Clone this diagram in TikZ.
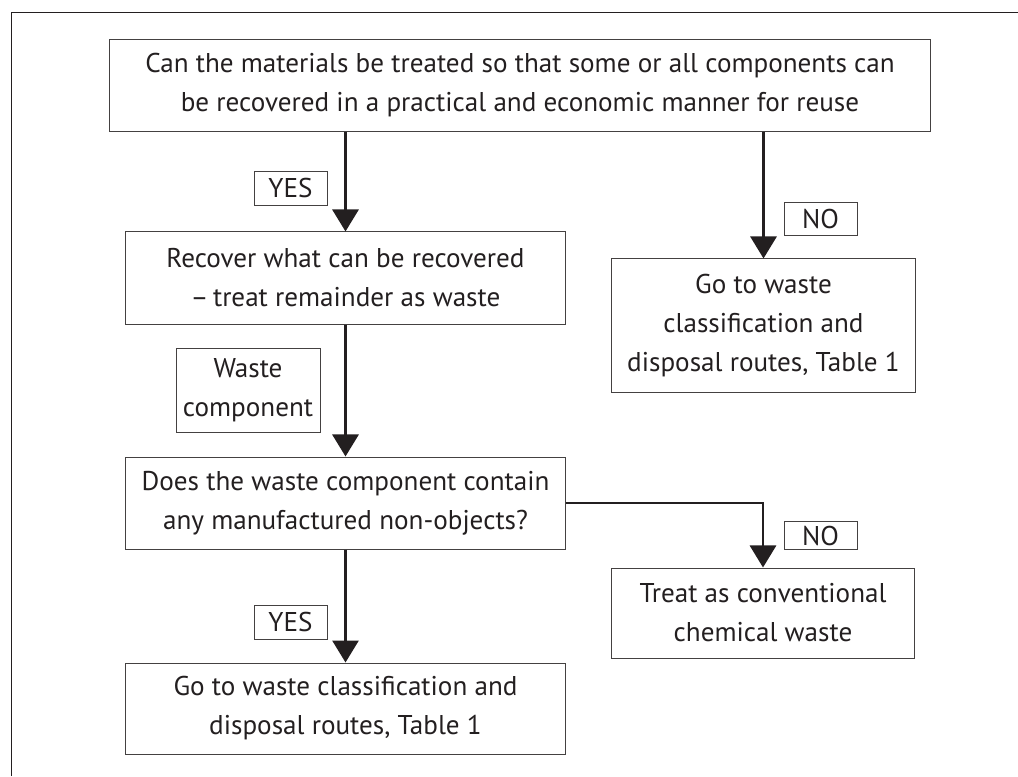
\documentclass[tikz,border=0pt]{standalone}
\usepackage{fontspec}
\setmainfont{PT Sans}
\usetikzlibrary{arrows.meta}

\definecolor{tinta}{HTML}{231F20}
\tikzset{
  caja/.style={draw=tinta!85, line width=0.7pt, text=tinta, align=center,
    inner sep=0pt, font=\fontsize{19.3}{27.7}\selectfont},
  etiqueta/.style={caja, line width=0.6pt},
  flecha/.style={-{Triangle[length=0.55cm, width=0.65cm]}, line width=2.1pt, draw=tinta},
}

\begin{document}
\begin{tikzpicture}[x=0.025cm, y=-0.025cm]
  \useasboundingbox (0,0) rectangle (1018,776);
  % marco recortado (solo arriba e izquierda)
  \coordinate (M1) at (11,776);
  \coordinate (M2) at (11,12);
  \coordinate (M3) at (1018,12);
  \draw[tinta, line width=0.7pt] (M1)--(M2)--(M3);
  % cajas de decision y de accion
  \node[caja, minimum width=20.5cm, minimum height=2.275cm] (pregunta) at (520,85.5)
    {Can the materials be treated so that some or all components can\\
     be recovered in a practical and economic manner for reuse};
  \node[caja, minimum width=10.975cm, minimum height=2.3cm] (recupera) at (345.5,278)
    {Recover what can be recovered\\ --\,treat remainder as waste};
  \node[caja, minimum width=7.575cm, minimum height=3.325cm] (tabla1) at (763.5,325.5)
    {Go to waste\\ classification and\\ disposal routes, Table 1};
  \node[caja, minimum width=10.975cm, minimum height=2.3cm] (contiene) at (345.5,503)
    {Does the waste component contain\\ any manufactured non-objects?};
  \node[caja, minimum width=7.55cm, minimum height=2.25cm] (quimico) at (763,613)
    {Treat as conventional\\ chemical waste};
  \node[caja, minimum width=10.975cm, minimum height=2.275cm] (tabla2) at (345.5,708.5)
    {Go to waste classification and\\ disposal routes, Table 1};
  % etiquetas de las ramas
  \node[etiqueta, minimum width=1.825cm, minimum height=0.85cm] (si1) at (290.5,188) {YES};
  \node[etiqueta, minimum width=1.825cm, minimum height=0.825cm] (no1) at (820.5,218.5) {NO};
  \node[etiqueta, minimum width=3.6cm, minimum height=2.1cm] (residuo) at (248,390) {Waste\\ component};
  \node[etiqueta, minimum width=1.825cm, minimum height=0.7cm] (no2) at (820.5,535.5) {NO};
  \node[etiqueta, minimum width=1.825cm, minimum height=0.85cm] (si2) at (290.5,622) {YES};
  % flechas
  \draw[flecha] (pregunta.south -| recupera.north) -- (recupera.north);
  \draw[flecha] (pregunta.south -| tabla1.north) -- (tabla1.north);
  \draw[flecha] (recupera.south) -- (contiene.north);
  \draw[flecha] (contiene.south) -- (tabla2.north);
  \draw[flecha] (contiene.east) -| (quimico.north);
\end{tikzpicture}
\end{document}
